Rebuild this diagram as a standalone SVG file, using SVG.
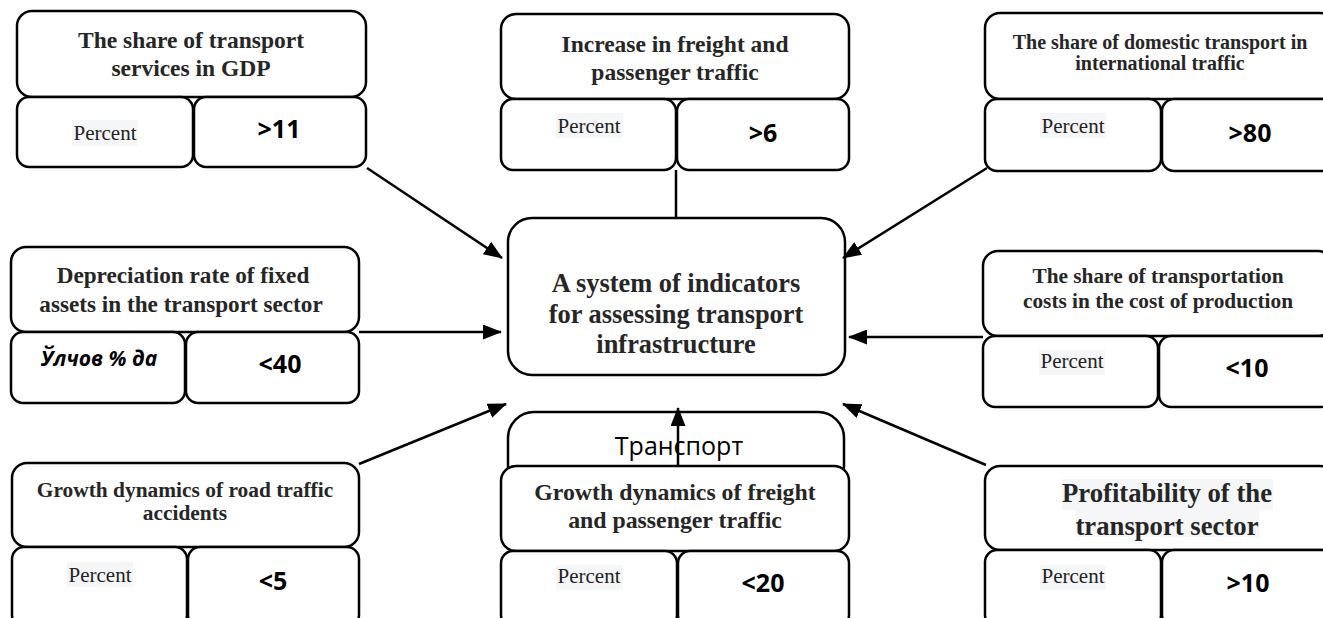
<svg xmlns="http://www.w3.org/2000/svg" width="1323" height="618" viewBox="0 0 1323 618">
<style>
.box{fill:#fff;stroke:#000;stroke-width:2.5}
.t{font-family:"Liberation Serif","Times New Roman",serif;font-weight:bold;fill:#262626;text-anchor:middle}
.p{font-family:"Liberation Serif","Times New Roman",serif;font-size:21px;fill:#222;text-anchor:middle}
.v{font-family:"Open Sans","Liberation Sans",sans-serif;font-weight:bold;font-size:25px;fill:#000;text-anchor:middle}
.hl{fill:#f5f6f8}
.c{fill:none;stroke:#000;stroke-width:2.5}
</style>
<defs>
<marker id="ah" markerUnits="userSpaceOnUse" markerWidth="19" markerHeight="15" refX="18" refY="7.5" orient="auto">
<path d="M0,0 L19,7.5 L0,15 z" fill="#000"/>
</marker>
</defs>
<rect width="1323" height="618" fill="#fff"/>

<g id="n1">
<rect class="box" x="17" y="11" width="349" height="86" rx="15"/>
<rect class="box" x="17" y="97" width="176" height="70" rx="12"/>
<rect class="box" x="194" y="97" width="172" height="70" rx="12"/>
<text class="t" font-size="23.5" x="191" y="48">The share of transport</text>
<text class="t" font-size="23.5" x="191" y="76">services in GDP</text>
<rect class="hl" x="72" y="120" width="66" height="26"/>
<text class="p" x="105" y="140">Percent</text>
<text class="v" x="279" y="138">&gt;11</text>
</g>

<g id="n2">
<rect class="box" x="501" y="14" width="348" height="85" rx="15"/>
<rect class="box" x="501" y="99" width="175" height="71" rx="12"/>
<rect class="box" x="677" y="99" width="172" height="71" rx="12"/>
<text class="t" font-size="23.5" x="675" y="52">Increase in freight and</text>
<text class="t" font-size="23.5" x="675" y="80">passenger traffic</text>
<rect class="hl" x="556" y="113" width="67" height="25"/>
<text class="p" x="589" y="133">Percent</text>
<text class="v" x="763" y="142">&gt;6</text>
</g>

<g id="n3">
<rect class="box" x="985" y="13" width="350" height="86" rx="15"/>
<rect class="box" x="985" y="99" width="176" height="72" rx="12"/>
<rect class="box" x="1162" y="99" width="173" height="72" rx="12"/>
<text class="t" font-size="20" x="1160" y="49">The share of domestic transport in</text>
<text class="t" font-size="20" x="1160" y="70">international traffic</text>
<rect class="hl" x="1040" y="113" width="66" height="25"/>
<text class="p" x="1073" y="133">Percent</text>
<text class="v" x="1250" y="142">&gt;80</text>
</g>

<g id="n4">
<rect class="box" x="11" y="247" width="348" height="85" rx="15"/>
<rect class="box" x="11" y="332" width="174" height="71" rx="12"/>
<rect class="box" x="186" y="332" width="173" height="71" rx="12"/>
<text class="t" font-size="23.2" x="183" y="283">Depreciation rate of fixed</text>
<text class="t" font-size="23.2" x="181" y="312">assets in the transport sector</text>
<text x="99" y="366" font-family="'Open Sans','Liberation Sans',sans-serif" font-weight="bold" font-style="italic" font-size="21" text-anchor="middle" fill="#000">Ўлчов % да</text>
<text class="v" x="280" y="373">&lt;40</text>
</g>

<g id="center">
<rect class="box" x="508" y="218" width="337" height="157" rx="24"/>
<text class="t" font-size="26.4" x="676" y="292">A system of indicators</text>
<text class="t" font-size="26.4" x="676" y="323">for assessing transport</text>
<text class="t" font-size="26.4" x="676" y="353">infrastructure</text>
</g>

<g id="n6">
<rect class="box" x="983" y="251" width="350" height="85" rx="15"/>
<rect class="box" x="983" y="336" width="175" height="71" rx="12"/>
<rect class="box" x="1159" y="336" width="174" height="71" rx="12"/>
<text class="t" font-size="21.3" x="1158" y="283">The share of transportation</text>
<text class="t" font-size="21.3" x="1158" y="308">costs in the cost of production</text>
<rect class="hl" x="1039" y="350" width="66" height="25"/>
<text class="p" x="1072" y="368">Percent</text>
<text class="v" x="1247" y="377">&lt;10</text>
</g>

<g id="n7">
<rect class="box" x="12" y="463" width="347" height="84" rx="15"/>
<rect class="box" x="12" y="547" width="175" height="80" rx="12"/>
<rect class="box" x="188" y="547" width="171" height="80" rx="12"/>
<text class="t" font-size="21.4" x="185" y="497">Growth dynamics of road traffic</text>
<text class="t" font-size="21.4" x="185" y="520">accidents</text>
<rect class="hl" x="67" y="562" width="66" height="25"/>
<text class="p" x="100" y="582">Percent</text>
<text class="v" x="273" y="590">&lt;5</text>
</g>

<g id="transport">
<rect class="box" x="508" y="412" width="336" height="80" rx="26"/>
<text x="679" y="455" font-family="'Open Sans','Liberation Sans',sans-serif" font-size="25" text-anchor="middle" fill="#000">Транспорт</text>
</g>

<g id="n8">
<rect class="box" x="501" y="466" width="348" height="85" rx="15"/>
<rect class="box" x="501" y="551" width="176" height="76" rx="12"/>
<rect class="box" x="678" y="551" width="171" height="76" rx="12"/>
<text class="t" font-size="23.8" x="675" y="500">Growth dynamics of freight</text>
<text class="t" font-size="23.8" x="675" y="528">and passenger traffic</text>
<rect class="hl" x="556" y="565" width="67" height="25"/>
<text class="p" x="589" y="583">Percent</text>
<text class="v" x="763" y="592">&lt;20</text>
</g>

<g id="n9">
<rect class="box" x="985" y="466" width="350" height="84" rx="15"/>
<rect class="box" x="985" y="550" width="176" height="77" rx="12"/>
<rect class="box" x="1162" y="550" width="173" height="77" rx="12"/>
<rect class="hl" x="1062" y="479" width="211" height="31"/>
<rect class="hl" x="1076" y="510" width="183" height="27"/>
<text class="t" font-size="26.7" x="1167" y="502">Profitability of the</text>
<text class="t" font-size="26.7" x="1167" y="535">transport sector</text>
<rect class="hl" x="1040" y="565" width="66" height="25"/>
<text class="p" x="1073" y="583">Percent</text>
<text class="v" x="1248" y="592">&gt;10</text>
</g>

<g id="connectors">
<line class="c" x1="367" y1="168" x2="502" y2="258" marker-end="url(#ah)"/>
<line class="c" x1="676" y1="170" x2="676" y2="218"/>
<line class="c" x1="987" y1="168" x2="843" y2="258" marker-end="url(#ah)"/>
<line class="c" x1="359" y1="332" x2="501" y2="332" marker-end="url(#ah)"/>
<line class="c" x1="983" y1="337" x2="849" y2="337" marker-end="url(#ah)"/>
<line class="c" x1="359" y1="464" x2="506" y2="404" marker-end="url(#ah)"/>
<line class="c" x1="678" y1="466" x2="678" y2="408" marker-end="url(#ah)"/>
<line class="c" x1="986" y1="465" x2="843" y2="404" marker-end="url(#ah)"/>
</g>
</svg>
